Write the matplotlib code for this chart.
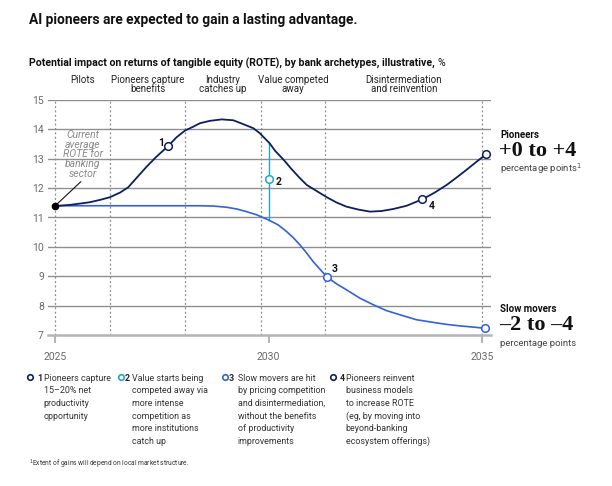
import matplotlib.pyplot as plt
import matplotlib as mpl
from matplotlib.lines import Line2D

# data
years_pioneers = [2025, 2025.35, 2025.66, 2025.81, 2026.05, 2026.28, 2026.52, 2026.71, 2026.9,
                  2027.14, 2027.37, 2027.65, 2027.84, 2028.04, 2028.23, 2028.39, 2028.62,
                  2028.9, 2029.17, 2029.4, 2029.64, 2029.79, 2030.02, 2030.15, 2030.34,
                  2030.54, 2030.73, 2030.89, 2031.08, 2031.36, 2031.59, 2031.82, 2032.1,
                  2032.37, 2032.64, 2032.92, 2033.23, 2033.6, 2033.89, 2034.17, 2034.4,
                  2034.63, 2034.87, 2035.1]
rote_pioneers = [11.39, 11.43, 11.49, 11.52, 11.60, 11.69, 11.85, 12.03, 12.34,
                 12.73, 13.07, 13.44, 13.73, 13.96, 14.09, 14.21, 14.29,
                 14.34, 14.31, 14.18, 14.04, 13.87, 13.53, 13.27, 12.98,
                 12.64, 12.34, 12.11, 11.94, 11.69, 11.51, 11.37, 11.27,
                 11.20, 11.22, 11.29, 11.40, 11.62, 11.85, 12.11, 12.36,
                 12.62, 12.90, 13.16]

years_slow = [2025, 2026, 2027, 2028, 2028.39, 2028.7, 2029.01, 2029.25, 2029.48, 2029.72,
              2029.99, 2030.22, 2030.42, 2030.57, 2030.73, 2030.89, 2031.04, 2031.2,
              2031.36, 2031.59, 2031.82, 2032.14, 2032.45, 2032.76, 2033.07, 2033.46,
              2033.85, 2034.17, 2034.48, 2034.71, 2035.06]
rote_slow = [11.4, 11.4, 11.4, 11.4, 11.40, 11.39, 11.35, 11.29, 11.20, 11.09,
             10.92, 10.75, 10.52, 10.32, 10.07, 9.79, 9.50, 9.24,
             8.98, 8.74, 8.54, 8.25, 8.03, 7.83, 7.69, 7.52,
             7.43, 7.36, 7.31, 7.28, 7.23]

phase_bounds = [2025, 2026.29, 2028.04, 2029.81, 2031.33, 2035]
phase_labels = ['Pilots', 'Pioneers capture\nbenefits', 'Industry\ncatches up',
                'Value competed\naway', 'Disintermediation\nand reinvention']

milestone_x = [2027.65, 2030.0, 2031.36, 2033.6]
milestone_y = [13.44, 12.3, 8.98, 11.62]
gap_top, gap_bottom = 13.53, 10.92

legend_lines = [
    ['Pioneers capture', '15–20% net', 'productivity', 'opportunity'],
    ['Value starts being', 'competed away via', 'more intense', 'competition as',
     'more institutions', 'catch up'],
    ['Slow movers are hit', 'by pricing competition', 'and disintermediation,',
     'without the benefits', 'of productivity', 'improvements'],
    ['Pioneers reinvent', 'business models', 'to increase ROTE',
     '(eg, by moving into', 'beyond-banking', 'ecosystem offerings)'],
]

navy = '#0c1f5e'
blue = '#3162d6'
cyan = '#22a5d2'
grid = '#8f8f8f'

mpl.rcParams['font.family'] = ['Roboto', 'DejaVu Sans']

W, H = 612, 486
fig = plt.figure(figsize=(W / 100, H / 100), dpi=100)
renderer = fig.canvas.get_renderer()

def fx(x):
    return x / W

def fy(y):
    return 1 - y / H

def fit_width(t, target):
    w = t.get_window_extent(renderer=renderer).width
    t.set_fontsize(t.get_fontsize() * target / w)

# axes placed so 2025 -> 55px, 2035 -> 482px, 15 -> 100px, 7 -> 335px
x0, x1 = 2024.83, 2035.2
ax = fig.add_axes([fx(48), fy(335), (490.7 - 48) / W, 235 / H])
ax.set_xlim(x0, x1)
ax.set_ylim(7, 15)

for s in ['top', 'right', 'left']:
    ax.spines[s].set_visible(False)
ax.spines['bottom'].set_color('#b5b5b5')
ax.spines['bottom'].set_linewidth(1.8)

for v in range(8, 16):
    ax.axhline(v, color=grid, lw=1.0, zorder=1)

for b in phase_bounds:
    ax.axvline(b, color='#8a8a8a', lw=0.9, ls=(0, (1.5, 2)), zorder=1)

ax.set_yticks(range(7, 16))
ax.set_xticks([2025, 2030, 2035])
ax.tick_params(axis='y', length=0, pad=3, labelsize=7.5, labelcolor='#6a6a6a')
ax.tick_params(axis='x', length=6, width=1.5, color='#b5b5b5', pad=6,
               labelsize=7.5, labelcolor='#6a6a6a')

# lines
ax.plot(years_slow, rote_slow, color=blue, lw=1.2, zorder=3, clip_on=False)
ax.plot(years_pioneers, rote_pioneers, color=navy, lw=1.3, zorder=4, clip_on=False)
ax.plot([milestone_x[1], milestone_x[1]], [gap_top, gap_bottom], color=cyan, lw=1.0, zorder=2)

ax.plot([2025], [11.39], 'o', color='black', ms=4.5, zorder=6, clip_on=False)

m_colors = [navy, cyan, blue, navy]
for x, y, c in zip(milestone_x, milestone_y, m_colors):
    ax.plot([x], [y], 'o', mfc='white', mec=c, mew=1.1, ms=5.5, zorder=6)
ax.plot([years_pioneers[-1]], [rote_pioneers[-1]], 'o', mfc='white', mec=navy,
        mew=1.1, ms=5.5, zorder=6, clip_on=False)
ax.plot([years_slow[-1]], [rote_slow[-1]], 'o', mfc='white', mec=blue,
        mew=1.1, ms=5.5, zorder=6, clip_on=False)

num_off = [(-5, 2), (7, -2), (5.5, 5.5), (6.5, -4.5)]
for i, (x, y) in enumerate(zip(milestone_x, milestone_y)):
    ax.annotate(str(i + 1), (x, y), xytext=num_off[i], textcoords='offset points',
                fontsize=7.5, fontweight='bold', ha='center', va='center', color='#111111')

# annotation for starting value
ax.annotate('', xy=(2025.05, 11.47), xytext=(2025.6, 12.22),
            arrowprops=dict(arrowstyle='-', color='#111111', lw=0.8, shrinkA=0, shrinkB=0))
ax.text(2025.64, 13.15, 'Current\naverage\nROTE for\nbanking\nsector', ha='center', va='center',
        fontsize=7.5, style='italic', color='#8a8a8a', linespacing=0.95, zorder=5)

# phase labels above the plot
for i, lab in enumerate(phase_labels):
    xc = ax.transData.transform(((phase_bounds[i] + phase_bounds[i + 1]) / 2, 15))[0]
    fig.text(xc / W, fy(75), lab, ha='center', va='top', fontsize=7.0,
             color='#222222', linespacing=0.92)

# titles
title = fig.text(fx(29), fy(20), 'AI pioneers are expected to gain a lasting advantage.',
                 fontsize=11, fontweight='bold', va='center', color='#111111')
fit_width(title, 328)
sub = fig.text(fx(29), fy(63), 'Potential impact on returns of tangible equity (ROTE), by bank archetypes, illustrative, ',
               fontsize=8.5, fontweight='bold', va='center', color='#111111')
fit_width(sub, 405)
bb = sub.get_window_extent(renderer=renderer)
fig.text(bb.x1 / W, fy(63), '%', fontsize=sub.get_fontsize(), va='center', color='#111111')

# right side call-outs
fig.text(fx(500), fy(135), 'Pioneers', fontsize=7.0, fontweight='bold', va='center', color='#111111')
fig.text(fx(499), fy(151), '+0 to +4', fontsize=16, fontweight='bold', va='center',
         family='Liberation Serif', color='#111111')
fig.text(fx(500), fy(169), 'percentage points$^1$', fontsize=6.8, va='center', color='#444444')
fig.text(fx(500), fy(309), 'Slow movers', fontsize=7.0, fontweight='bold', va='center', color='#111111')
fig.text(fx(499), fy(325), '–2 to –4', fontsize=16, fontweight='bold', va='center',
         family='Liberation Serif', color='#111111')
fig.text(fx(500), fy(343), 'percentage points', fontsize=6.8, va='center', color='#444444')

# bottom legend
leg_pos = [(30, 37.5, 43.5), (121, 124.5, 132.5), (225, 228.5, 237.5), (333.5, 339.5, 345.5)]
for k, ((mx, nx, tx), lines, c) in enumerate(zip(leg_pos, legend_lines, m_colors)):
    fig.add_artist(Line2D([fx(mx)], [fy(377)], marker='o', mfc='white', mec=c, mew=1.2,
                          ms=4, transform=fig.transFigure))
    fig.text(fx(nx), fy(378), str(k + 1), fontsize=6.4,
             fontweight='bold', va='center', color='#222222')
    for j, ln in enumerate(lines):
        fig.text(fx(tx), fy(378 + j * 12.7), ln, fontsize=6.4, va='center', color='#333333')

fig.text(fx(29), fy(464), '$^1$Extent of gains will depend on local market structure.',
         fontsize=4.8, va='center', color='#333333')

fig.savefig('out.png', dpi=100)
